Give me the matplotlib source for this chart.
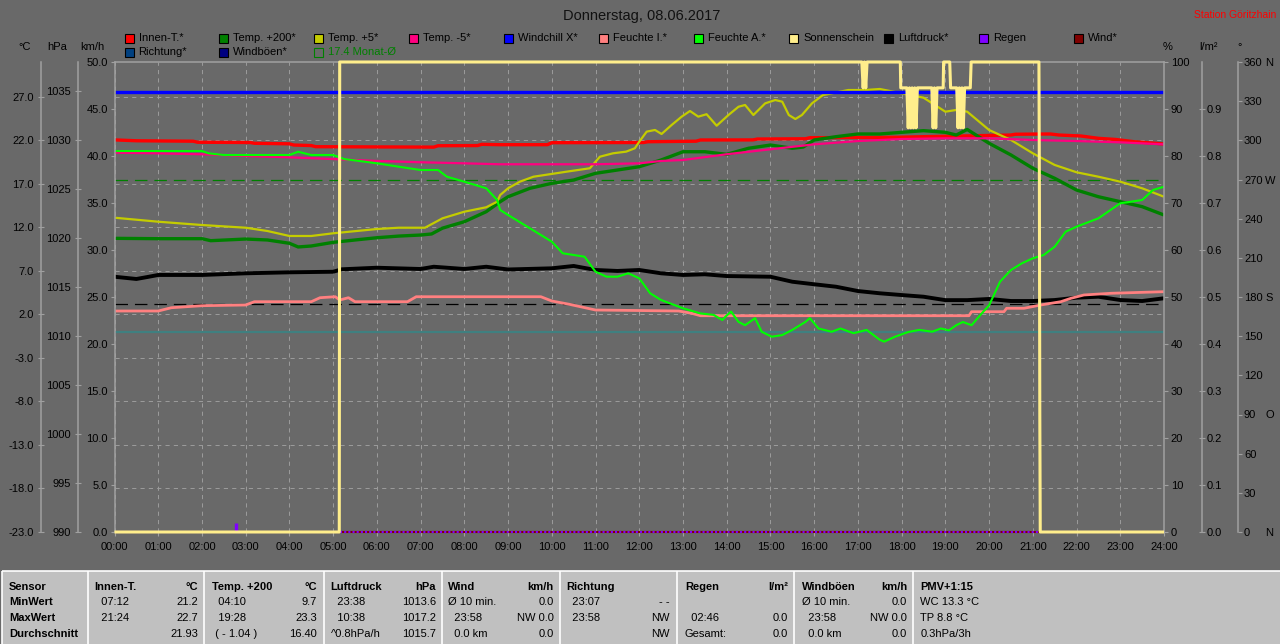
import matplotlib
matplotlib.use("Agg")
import matplotlib.pyplot as plt
from matplotlib.patches import Rectangle
from matplotlib.lines import Line2D
import matplotlib.transforms as mtransforms

plt.rcParams['font.family'] = ['Liberation Sans', 'DejaVu Sans']
plt.rcParams['lines.scale_dashes'] = False
plt.rcParams['lines.solid_capstyle'] = 'butt'

# ---------------------------------------------------------------- data
title = "Donnerstag, 08.06.2017"
station = "Station Göritzhain"
hour_ticks = list(range(25))
hour_labels = [f"{h:02d}:00" for h in hour_ticks]

# Innen-T. (°C)
innen_h = [0, 0.5, 1.8, 1.9, 3.1, 3.2, 4.0, 4.1, 4.5, 4.6, 7.3, 7.4, 8.3, 8.4, 8.8, 9.9, 10.0,
           12.1, 12.2, 13.3, 13.4, 14.6, 14.7, 15.8, 15.9, 17.9, 18.5, 19.4, 20.5, 20.6, 21.4,
           21.6, 22.1, 22.5, 22.9, 23.3, 23.7, 24]
innen_t = [22.05, 21.95, 21.9, 21.78, 21.75, 21.66, 21.6, 21.46, 21.4, 21.27, 21.22, 21.38,
           21.4, 21.54, 21.5, 21.5, 21.73, 21.75, 21.84, 21.9, 22.04, 22.05, 22.15, 22.18, 22.3,
           22.35, 22.42, 22.5, 22.61, 22.7, 22.73, 22.61, 22.5, 22.23, 22.1, 21.85, 21.7, 21.58]

# Temp. +200 (°C)
t200_h = [0, 1, 2, 2.2, 3, 3.5, 4.0, 4.2, 4.5, 5.0, 5.5, 6.0, 6.5, 7.0, 7.25, 7.5, 8.0, 8.5,
          8.82, 9.0, 9.5, 10, 10.5, 11, 11.5, 12, 12.5, 13, 13.5, 14, 14.5, 15, 15.5, 15.75, 16,
          16.5, 17, 17.5, 18, 18.5, 19, 19.25, 19.5, 20, 20.5, 21, 21.5, 22, 22.5, 23, 23.5, 24]
t200 = [10.74, 10.7, 10.7, 10.47, 10.66, 10.55, 10.17, 9.75, 9.86, 10.28, 10.55, 10.81, 11.0,
        11.12, 11.24, 11.91, 12.65, 13.8, 14.95, 15.52, 16.49, 17.06, 17.44, 18.21, 18.59,
        18.97, 19.74, 20.69, 20.69, 20.39, 21.09, 21.46, 21.09, 21.23, 22.04, 22.42, 22.73,
        22.73, 22.92, 23.11, 22.92, 22.61, 23.25, 21.66, 20.32, 18.79, 17.64, 16.29, 15.52,
        14.95, 14.38, 13.42]

# Temp. +5 (°C)
t5_h = [0, 1, 2, 3, 3.5, 4.0, 4.5, 5.0, 6.0, 6.5, 7.1, 7.5, 8.0, 8.5, 8.75, 8.82, 9.0, 9.27,
        9.58, 10.34, 10.87, 11.1, 11.4, 11.7, 11.9, 12.0, 12.17, 12.36, 12.51, 12.74, 12.97,
        13.16, 13.35, 13.54, 13.77, 14.04, 14.27, 14.42, 14.61, 14.88, 15.11, 15.27, 15.42,
        15.57, 15.72, 15.95, 16.2, 16.4, 16.78, 17.17, 17.5, 18, 18.5, 19, 19.25, 19.5, 20,
        20.5, 21, 21.5, 22, 22.5, 23, 23.5, 24]
t5 = [13.11, 12.65, 12.27, 11.96, 11.58, 11.01, 11.01, 11.32, 11.81, 11.96, 11.96, 13.04,
      13.80, 14.31, 14.95, 15.72, 16.49, 17.25, 17.82, 18.40, 18.79, 20.12, 20.51, 20.70,
      21.09, 21.84, 23.0, 23.19, 22.73, 23.76, 24.72, 25.37, 24.72, 25.0, 23.68, 24.91, 25.86,
      26.06, 24.91, 26.25, 26.63, 26.44, 24.91, 24.45, 24.91, 26.25, 27.2, 27.4, 27.78, 27.78,
      27.9, 27.40, 26.90, 25.29, 25.49, 25.29, 23.19, 22.04, 20.51, 19.17, 18.33, 17.82, 17.25,
      16.49, 15.52]

# Temp. -5 (°C)
tm5_h = [0, 1, 2, 3, 4, 5, 6, 7, 8, 8.8, 9, 10, 11, 12, 12.5, 13, 14, 15, 16, 17, 18, 19, 20,
         21, 22, 23, 24]
tm5 = [20.58, 20.51, 20.40, 20.20, 20.05, 19.85, 19.63, 19.48, 19.36, 19.25, 19.25, 19.25,
       19.25, 19.36, 19.63, 19.74, 20.40, 20.97, 21.54, 21.92, 22.15, 22.23, 22.23, 22.04,
       21.92, 21.77, 21.54]

# Windchill X (°C)
windchill_h = [0, 24]
windchill = [27.5, 27.5]

# Feuchte I. (%)
fi_h = [0, 1.0, 1.3, 2.0, 3.0, 3.2, 4.5, 4.7, 5.05, 5.15, 5.35, 5.5, 6.7, 6.9, 9.75, 10.0,
        10.4, 11.0, 12.9, 13.2, 13.4, 19.54, 19.6, 20.34, 20.4, 20.8, 21.18, 21.64, 21.87,
        22.17, 22.79, 24]
fi = [47.02, 47.02, 47.72, 48.15, 48.30, 49.0, 49.0, 49.85, 50.06, 49.36, 49.85, 49.0, 49.0,
      50.06, 50.06, 49.15, 48.45, 47.23, 47.02, 46.53, 46.02, 46.02, 46.87, 46.87, 47.60,
      47.60, 48.30, 49.0, 49.72, 50.43, 50.79, 51.13]

# Feuchte A. (%)
fa_h = [0, 2.0, 2.15, 2.5, 4.0, 4.2, 4.5, 5.0, 5.25, 6.0, 6.5, 7.0, 7.4, 7.6, 8.0, 8.5, 8.75,
        8.82, 9.0, 9.5, 10.0, 10.25, 10.5, 10.75, 11.0, 11.25, 11.5, 11.75, 12.0, 12.25, 12.5,
        13.0, 13.4, 13.7, 13.9, 13.97, 14.1, 14.27, 14.42, 14.65, 14.8, 15.03, 15.27, 15.5,
        15.8, 15.9, 16.1, 16.4, 16.6, 16.9, 17.2, 17.5, 17.6, 17.85, 18.15, 18.4, 18.7, 18.9,
        19.08, 19.25, 19.4, 19.6, 19.86, 20.0, 20.25, 20.5, 20.75, 21.0, 21.25, 21.5, 21.75,
        22.0, 22.5, 23.0, 23.25, 23.5, 23.75, 24.0]
fa = [81.06, 81.06, 80.57, 80.21, 80.21, 80.91, 80.21, 80.21, 79.36, 78.45, 77.72, 77.02,
      77.02, 75.60, 74.53, 73.13, 70.64, 68.51, 67.45, 64.62, 61.77, 59.30, 58.94, 58.57,
      55.38, 54.32, 54.32, 55.04, 53.98, 50.79, 49.36,
      47.6, 46.5, 46.2, 45.1, 45.8, 46.9, 44.7, 44.0, 45.5, 42.6, 41.55, 41.9, 43.0,
      44.7, 45.5, 43.3, 42.6, 43.3, 42.3, 43.0, 40.9, 40.5, 41.55, 42.55, 43.0, 42.62, 43.3,
      42.9, 44.0, 44.68, 44.0, 46.81, 48.23, 53.26, 55.74, 57.17, 58.23, 58.94, 60.70, 63.89,
      64.96, 66.74, 69.94, 70.28, 70.64, 72.77, 73.47]

# Sonnenschein (%)
sun_h = [0, 5.14, 5.15, 17.09, 17.12, 17.15, 17.18, 17.21, 17.97, 17.98, 18.12, 18.15, 18.18,
         18.21, 18.24, 18.27, 18.30, 18.33, 18.36, 18.39, 18.69, 18.72, 18.75, 18.78, 18.81,
         18.95, 18.96, 19.10, 19.12, 19.26, 19.29, 19.32, 19.35, 19.38, 19.41, 19.44, 19.47,
         19.57, 19.59, 21.14, 21.15, 21.16, 21.17, 24]
sun = [0, 0, 100, 100, 94.5, 100, 94.5, 100, 100, 94.5, 94.5, 86, 94.5, 86, 94.5, 86, 94.5,
       86, 94.5, 94.5, 94.5, 86, 94.5, 86, 94.5, 94.5, 100, 100, 94.5, 94.5, 86, 94.5, 86,
       94.5, 86, 94.5, 94.5, 94.5, 100, 100, 75, 25, 0, 0]

# Luftdruck (hPa)
lp_h = [0, 0.5, 0.75, 1, 2, 3, 4, 5, 5.2, 6, 7, 7.3, 8, 8.5, 9, 10, 10.5, 11, 11.5, 12, 12.5,
        13, 13.5, 14, 15, 15.5, 16, 16.5, 17, 17.5, 18, 18.5, 19, 19.5, 20, 20.5, 21, 21.5,
        22, 22.5, 23, 23.5, 24]
lp = [1016.07, 1015.84, 1016.04, 1016.25, 1016.25, 1016.42, 1016.52, 1016.58, 1016.83,
      1016.99, 1016.86, 1017.09, 1016.86, 1017.09, 1016.81, 1016.93, 1017.17, 1016.76,
      1016.66, 1016.76, 1016.42, 1016.25, 1016.32, 1016.14, 1016.07, 1015.56, 1015.30,
      1015.05, 1014.61, 1014.38, 1014.20, 1014.03, 1013.68, 1013.68, 1013.80, 1013.59,
      1013.59, 1013.69, 1013.93, 1014.03, 1013.69, 1013.59, 1013.87]

# Regen (l/m²)
rain_h = [2.77]
rain = [0.02]

# Wind / Windböen (km/h)
wind_h = [0, 24]
wind = [0.0, 0.0]

# reference lines
month_avg = 17.4          # °C
frost_line = 0.0          # °C
normal_pressure = 1013.25  # hPa

# axis scales
c_ticks = list(range(-23, 28, 5))
hpa_ticks = list(range(990, 1036, 5))
kmh_ticks = list(range(0, 51, 5))
pct_ticks = list(range(0, 101, 10))
rain_ticks = [i / 10 for i in range(10)]
deg_ticks = list(range(0, 361, 30))
dir_letters = {360: "N", 270: "W", 180: "S", 90: "O", 0: "N"}

# legend
legend_row1 = ["Innen-T.*", "Temp. +200*", "Temp. +5*", "Temp. -5*", "Windchill X*",
               "Feuchte I.*", "Feuchte A.*", "Sonnenschein", "Luftdruck*", "Regen", "Wind*"]
legend_row2 = ["Richtung*", "Windböen*"]
month_label = "17.4 Monat-Ø"

# table
table_headers = ["Sensor", "Innen-T.", "Temp. +200", "Luftdruck", "Wind", "Richtung",
                 "Regen", "Windböen", "PMV+1:15"]
table_units = ["", "°C", "°C", "hPa", "km/h", "", "l/m²", "km/h", ""]
row_names = ["MinWert", "MaxWert", "Durchschnitt"]
innen_rows = [("  07:12", "21.2"), ("  21:24", "22.7"), ("", "21.93")]
t200_rows = [("  04:10", "9.7"), ("  19:28", "23.3"), (" ( - 1.04 )", "16.40")]
druck_rows = [("  23:38", "1013.6"), ("  10:38", "1017.2"), ("^0.8hPa/h", "1015.7")]
wind_rows = [("Ø 10 min.", "0.0"), ("  23:58", "NW 0.0"), ("  0.0 km", "0.0")]
richtung_rows = [("  23:07", "- -"), ("  23:58", "NW"), ("", "NW")]
regen_rows = [("", ""), ("  02:46", "0.0"), ("Gesamt:", "0.0")]
boeen_rows = [("Ø 10 min.", "0.0"), ("  23:58", "NW 0.0"), ("  0.0 km", "0.0")]
pmv_rows = ["WC 13.3 °C", "TP 8.8 °C", "0.3hPa/3h"]

# ---------------------------------------------------------------- styling / layout
W, H, DPI = 1280, 644, 100
PX = 72.0 / DPI
BG = '#696969'
AXC = '#A0A0A0'
GRID = '#9A9A9A'
FS = 8

C_INNEN = '#FF0000'
C_T200 = '#008000'
C_T5 = '#C4CC00'
C_TM5 = '#FF0080'
C_WCHILL = '#0000FF'
C_FI = '#FF8080'
C_FA = '#00FF00'
C_SUN = '#FFEE8C'
C_LP = '#000000'
C_RAIN = '#8000FF'
C_WIND = '#800000'
C_DIR = '#004080'
C_GUST = '#000080'
C_MONTH = '#008000'
C_FROST = '#3F8080'

fig = plt.figure(figsize=(W / DPI, H / DPI), dpi=DPI, facecolor=BG)


def fx(x):
    return x / W


def fy(y):
    return 1 - y / H


L, R, T, B = 114.5, 1164.0, 62.0, 532.0
rect = [fx(L), fy(B), fx(R) - fx(L), fy(T) - fy(B)]

# host axes: °C
ax_c = fig.add_axes(rect)
ax_c.set_facecolor(BG)
ax_c.set_xlim(0, 24)
ax_c.set_ylim(-23, 31)
ax_c.set_axisbelow(True)
ax_c.set_xticks(hour_ticks)
ax_c.set_xticklabels(hour_labels)
ax_c.set_yticks(c_ticks)
ax_c.set_yticklabels([f"{v:.1f}" for v in c_ticks])
ax_c.grid(True, color=GRID, linestyle=(0, (3, 3)), linewidth=0.72)
ax_c.spines['right'].set_visible(False)
for s in ['top', 'bottom', 'left']:
    ax_c.spines[s].set_color(AXC)
    ax_c.spines[s].set_linewidth(1.1)
ax_c.spines['left'].set_position(('outward', (L - 41) * PX))
ax_c.tick_params(axis='y', direction='inout', length=5, width=0.8, pad=2.5, color=AXC,
                 labelcolor='black', labelsize=FS)
ax_c.tick_params(axis='x', direction='out', length=3, width=0.8, pad=4, color=AXC,
                 labelcolor='black', labelsize=FS)

ax_c.axhline(frost_line, color=C_FROST, lw=1.6)
ax_c.axhline(month_avg, color=C_MONTH, lw=0.9, linestyle=(0, (9, 5)))
ax_c.plot(innen_h, innen_t, color=C_INNEN, lw=2.4)
ax_c.plot(t200_h, t200, color=C_T200, lw=2.4)
ax_c.plot(t5_h, t5, color=C_T5, lw=1.6)
ax_c.plot(tm5_h, tm5, color=C_TM5, lw=1.6)
ax_c.plot(windchill_h, windchill, color=C_WCHILL, lw=2.4)


def twin(ax):
    t = ax.twinx()
    for s in t.spines.values():
        s.set_visible(False)
    return t


# hPa
ax_p = twin(ax_c)
ax_p.set_ylim(990, 1038)
ax_p.yaxis.tick_left()
ax_p.spines['left'].set_visible(True)
ax_p.spines['left'].set_color(AXC)
ax_p.spines['left'].set_linewidth(1.1)
ax_p.spines['left'].set_position(('outward', (L - 77.7) * PX))
ax_p.set_yticks(hpa_ticks)
ax_p.set_yticklabels([str(v) for v in hpa_ticks])
ax_p.tick_params(axis='y', direction='inout', length=5, width=0.8, pad=2.3, color=AXC,
                 labelcolor='black', labelsize=FS)
ax_p.axhline(normal_pressure, color='black', lw=0.9, linestyle=(0, (9, 5)))
ax_p.plot(lp_h, lp, color=C_LP, lw=2.8)

# %
ax_h = twin(ax_c)
ax_h.set_ylim(0, 100)
ax_h.spines['right'].set_visible(True)
ax_h.spines['right'].set_color(AXC)
ax_h.spines['right'].set_linewidth(1.1)
ax_h.set_yticks(pct_ticks)
ax_h.set_yticklabels([str(v) for v in pct_ticks])
ax_h.tick_params(axis='y', direction='out', length=3, width=0.8, pad=1.8, color=AXC,
                 labelcolor='black', labelsize=FS)
ax_h.plot(fi_h, fi, color=C_FI, lw=2.0)
ax_h.plot(fa_h, fa, color=C_FA, lw=1.5)

# km/h
ax_k = twin(ax_c)
ax_k.set_ylim(0, 50)
ax_k.yaxis.tick_left()
ax_k.spines['left'].set_visible(True)
ax_k.spines['left'].set_color(AXC)
ax_k.spines['left'].set_linewidth(1.1)
ax_k.set_yticks(kmh_ticks)
ax_k.set_yticklabels([f"{v:.1f}" for v in kmh_ticks])
ax_k.tick_params(axis='y', direction='out', length=3, width=0.8, pad=1.7, color=AXC,
                 labelcolor='black', labelsize=FS)
ax_k.plot(wind_h, wind, color=C_WIND, lw=1.5, clip_on=False)
ax_k.plot(wind_h, wind, color=C_RAIN, lw=1.5, linestyle=(0, (1.5, 1.5)), clip_on=False)

# l/m²
ax_r = twin(ax_c)
ax_r.set_ylim(0, 1)
ax_r.spines['right'].set_visible(True)
ax_r.spines['right'].set_color(AXC)
ax_r.spines['right'].set_linewidth(1.1)
ax_r.spines['right'].set_position(('outward', (1201.7 - R) * PX))
ax_r.set_yticks(rain_ticks)
ax_r.set_yticklabels([f"{v:.1f}" for v in rain_ticks])
ax_r.tick_params(axis='y', direction='inout', length=5, width=0.8, pad=1.3, color=AXC,
                 labelcolor='black', labelsize=FS)
ax_r.vlines(rain_h, 0, rain, color=C_RAIN, lw=2.4)

# degrees
ax_d = twin(ax_c)
ax_d.set_ylim(0, 360)
ax_d.spines['right'].set_visible(True)
ax_d.spines['right'].set_color(AXC)
ax_d.spines['right'].set_linewidth(1.1)
ax_d.spines['right'].set_position(('outward', (1238.3 - R) * PX))
ax_d.set_yticks(deg_ticks)
ax_d.set_yticklabels([str(v) for v in deg_ticks])
ax_d.tick_params(axis='y', direction='out', length=3, width=0.8, pad=1.1, color=AXC,
                 labelcolor='black', labelsize=FS)
tr_d = mtransforms.blended_transform_factory(fig.transFigure, ax_d.transData)
for v, letter in dir_letters.items():
    fig.text(fx(1265), v, letter, transform=tr_d, ha='left', va='center_baseline',
             fontsize=FS, color='black')

# sunshine on top
ax_s = twin(ax_c)
ax_s.set_ylim(0, 100)
ax_s.set_yticks([])
ax_s.plot(sun_h, sun, color=C_SUN, lw=2.2, clip_on=False)

# ---------------------------------------------------------------- header texts
fig.text(fx(642), fy(16), title, ha='center', va='center', fontsize=10.5, color='#111111')
fig.text(fx(1276), fy(15), station, ha='right', va='center', fontsize=7.5, color='#FF0000')
for x, s in [(25, "°C"), (57, "hPa"), (92, "km/h"), (1167.5, "%"), (1209, "l/m²"),
             (1240, "°")]:
    fig.text(fx(x), fy(47), s, ha='center', va='center', fontsize=FS, color='black')

# legend
row1_colors = [C_INNEN, C_T200, C_T5, C_TM5, C_WCHILL, C_FI, C_FA, C_SUN, C_LP, C_RAIN, C_WIND]
row2_colors = [C_DIR, C_GUST]
step = 94.94
for i, (name, col) in enumerate(zip(legend_row1, row1_colors)):
    x0 = 124.5 + step * i
    fig.add_artist(Rectangle((fx(x0), fy(42.5)), 9 / W, 9 / H, transform=fig.transFigure,
                             facecolor=col, edgecolor='black', lw=0.8))
    fig.text(fx(x0 + 14), fy(38), name, ha='left', va='center', fontsize=FS, color='black')
for i, (name, col) in enumerate(zip(legend_row2, row2_colors)):
    x0 = 124.5 + step * i
    fig.add_artist(Rectangle((fx(x0), fy(56.5)), 9 / W, 9 / H, transform=fig.transFigure,
                             facecolor=col, edgecolor='black', lw=0.8))
    fig.text(fx(x0 + 14), fy(52), name, ha='left', va='center', fontsize=FS, color='black')
x0 = 124.5 + step * 2
fig.add_artist(Rectangle((fx(x0), fy(56.5)), 9 / W, 9 / H, transform=fig.transFigure,
                         facecolor='none', edgecolor=C_MONTH, lw=0.8))
fig.text(fx(x0 + 14), fy(52), month_label, ha='left', va='center', fontsize=FS, color=C_MONTH)

# ---------------------------------------------------------------- table
fig.add_artist(Rectangle((fx(2), 0), 1 - fx(2), fy(571), transform=fig.transFigure,
                         facecolor='#C0C0C0', edgecolor='none'))
fig.add_artist(Line2D([fx(2), 1], [fy(571), fy(571)], transform=fig.transFigure,
                      color='white', lw=1.2))
table_sep = [2, 88, 204, 324, 442, 560, 677, 794, 913]
for xs in table_sep:
    fig.add_artist(Line2D([fx(xs), fx(xs)], [fy(571), 0], transform=fig.transFigure,
                          color='white', lw=1.2))

col_left = [9, 94.7, 212.2, 330.6, 447.8, 566.1, 684.9, 802.4, 920.4]
col_right = [None, 198, 316.7, 436, 554, 670, 788, 907.3, None]
row_y = [586.7, 601.7, 617.7, 634]
col_rows = [None, innen_rows, t200_rows, druck_rows, wind_rows, richtung_rows, regen_rows,
            boeen_rows, None]

for ci, head in enumerate(table_headers):
    fig.text(fx(col_left[ci]), fy(row_y[0]), head, ha='left', va='center', fontsize=FS,
             fontweight='bold', color='black')
    if table_units[ci]:
        fig.text(fx(col_right[ci]), fy(row_y[0]), table_units[ci], ha='right', va='center',
                 fontsize=FS, fontweight='bold', color='black')
for ri, name in enumerate(row_names):
    fig.text(fx(col_left[0]), fy(row_y[ri + 1]), name, ha='left', va='center', fontsize=FS,
             fontweight='bold', color='black')
for ci, rows in enumerate(col_rows):
    if rows is None:
        continue
    for ri, (ltxt, rtxt) in enumerate(rows):
        if ltxt:
            fig.text(fx(col_left[ci]), fy(row_y[ri + 1]), ltxt, ha='left', va='center',
                     fontsize=FS, color='black')
        if rtxt:
            fig.text(fx(col_right[ci]), fy(row_y[ri + 1]), rtxt, ha='right', va='center',
                     fontsize=FS, color='black')
for ri, txt in enumerate(pmv_rows):
    fig.text(fx(col_left[8]), fy(row_y[ri + 1]), txt, ha='left', va='center', fontsize=FS,
             color='black')

fig.savefig("out.png", dpi=DPI, facecolor=BG)
